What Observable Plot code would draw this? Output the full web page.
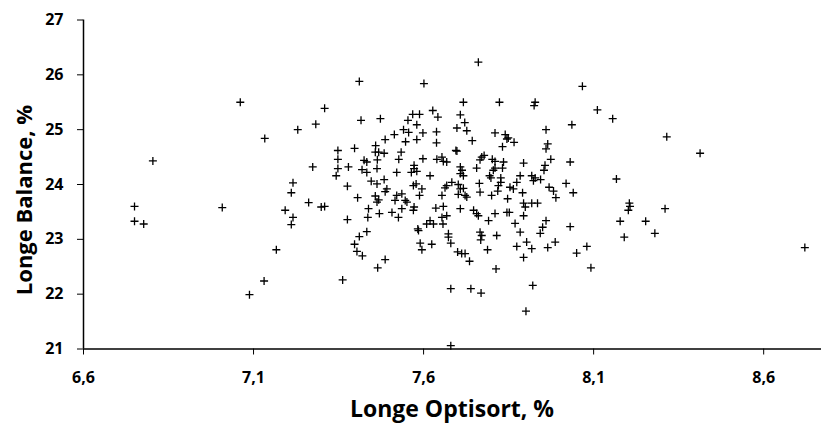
<!DOCTYPE html>
<html><head><meta charset="utf-8">
<script src="https://cdn.jsdelivr.net/npm/d3@7"></script>
<script src="https://cdn.jsdelivr.net/npm/@observablehq/plot@0.6"></script>
<style>
body{margin:0;background:#fff}
#chart svg{display:block}
#chart svg g[aria-label$="tick label"] text{font-weight:bold}
</style>
</head><body><div id="chart"></div>
<script>
const optisort = [6.75,6.75,6.777,6.804,7.008,7.061,7.133,7.088,7.131,7.167,
7.761,7.411,7.601,7.717,7.823,7.928,7.925,7.309,7.230,7.283,
7.416,7.473,7.554,7.568,7.588,7.580,7.627,7.642,7.708,7.721,
7.698,7.727,7.541,7.556,7.598,7.514,7.487,7.547,7.580,7.638,
7.638,7.743,7.810,7.840,7.849,7.845,7.866,7.832,7.348,7.348,
7.348,7.343,7.397,7.379,7.459,7.458,7.468,7.484,7.534,7.425,
7.433,7.464,7.527,7.598,7.639,7.654,7.658,7.695,7.698,7.572,
7.572,7.580,7.419,7.433,7.463,7.521,7.564,7.619,7.668,7.708,
7.713,7.708,7.717,7.756,7.771,7.778,7.766,7.802,7.810,7.810,
7.805,7.835,7.832,7.894,7.794,7.798,7.827,7.884,7.918,7.928,
7.923,7.216,7.211,7.274,7.376,7.406,7.446,7.463,7.484,7.492,
7.487,7.458,7.468,7.463,7.521,7.516,7.536,7.546,7.570,7.578,
7.595,7.588,7.572,7.570,7.551,7.654,7.663,7.668,7.683,7.702,
7.708,7.717,7.702,7.722,7.727,7.764,7.766,7.800,7.820,7.818,
7.827,7.854,7.864,7.874,7.847,7.891,7.894,7.918,7.935,7.899,
7.894,7.262,7.299,7.309,7.193,7.216,7.211,7.376,7.438,7.436,
7.433,7.411,7.470,7.507,7.526,7.536,7.583,7.609,7.619,7.629,
7.636,7.658,7.654,7.657,7.668,7.673,7.708,7.747,7.756,7.761,
7.791,7.810,7.845,7.852,7.869,7.884,7.766,7.771,7.815,7.362,
7.397,7.404,7.420,7.487,7.465,7.585,7.590,7.595,7.624,7.673,
7.680,7.700,7.712,7.722,7.735,7.768,7.788,7.813,7.874,7.903,
7.918,7.894,7.921,7.680,7.739,7.769,7.680,8.067,8.111,8.156,
7.960,8.036,7.965,7.960,8.315,8.413,7.974,8.031,7.957,7.954,
7.944,8.019,7.969,7.982,7.989,8.040,8.167,8.205,8.207,8.202,
8.310,8.178,8.253,7.960,7.950,7.943,8.031,8.190,8.280,7.965,
7.987,8.050,8.080,8.092,7.901,8.721];
const balance = [23.60,23.33,23.28,24.43,23.58,25.50,24.84,21.99,22.24,22.81,
26.23,25.88,25.84,25.50,25.50,25.50,25.44,25.39,25.00,25.10,
25.17,25.20,25.17,25.28,25.28,25.09,25.35,25.23,25.27,25.13,
25.03,24.98,25.00,24.95,24.94,24.91,24.82,24.78,24.82,24.96,
24.76,24.80,24.94,24.91,24.85,24.83,24.77,24.69,24.62,24.46,
24.29,24.16,24.66,24.32,24.71,24.59,24.59,24.57,24.59,24.44,
24.41,24.45,24.46,24.47,24.46,24.50,24.42,24.62,24.61,24.35,
24.29,24.24,24.27,24.22,24.29,24.22,24.22,24.16,24.41,24.32,
24.26,24.20,24.16,24.30,24.50,24.53,24.45,24.46,24.42,24.30,
24.26,24.41,24.30,24.39,24.16,24.12,24.12,24.16,24.16,24.12,
24.07,24.03,23.85,24.32,23.97,23.76,24.06,24.01,24.09,23.92,
23.87,23.79,23.72,23.68,23.80,23.71,23.83,23.71,23.98,24.01,
23.92,23.80,23.59,23.53,23.68,23.80,23.94,23.98,24.04,24.00,
23.92,23.93,23.82,23.80,23.77,24.02,23.86,23.80,23.98,23.88,
24.04,23.95,23.92,24.04,23.74,23.85,23.66,23.66,23.66,23.59,
23.43,23.67,23.59,23.60,23.53,23.40,23.27,23.36,23.56,23.40,
23.14,23.05,23.47,23.49,23.40,23.56,23.19,23.28,23.34,23.28,
23.57,23.60,23.40,23.28,23.43,23.10,23.56,23.53,23.47,23.43,
23.34,23.47,23.49,23.49,23.29,23.13,23.13,23.07,23.07,22.26,
22.91,22.78,22.70,22.63,22.48,23.16,22.93,22.81,22.91,23.04,
22.93,22.77,22.74,22.74,22.60,22.99,22.81,22.46,22.87,22.95,
22.83,22.67,22.16,22.10,22.10,22.02,21.06,25.79,25.36,25.20,
25.00,25.09,24.74,24.65,24.87,24.57,24.46,24.41,24.35,24.26,
24.09,24.02,23.95,23.88,23.76,23.85,24.10,23.66,23.60,23.53,
23.56,23.33,23.33,23.34,23.22,23.11,23.23,23.04,23.11,22.85,
22.95,22.75,22.87,22.48,21.69,22.85];
const xTicks = [6.6, 7.1, 7.6, 8.1, 8.6];
const yTicks = [21, 22, 23, 24, 25, 26, 27];
const xLabel = "Longe Optisort, %";
const yLabel = "Longe Balance, %";

const n = Math.min(optisort.length, balance.length);
const data = d3.range(n).map(i => ({x: optisort[i], y: balance[i]}));
const plusSymbol = {
  draw(ctx, size) {
    const r = Math.sqrt(size / Math.PI);
    ctx.moveTo(-r, 0); ctx.lineTo(r, 0);
    ctx.moveTo(0, -r); ctx.lineTo(0, r);
  }
};
const fmtX = d => d.toFixed(1).replace(".", ",");
const fmtY = d => d3.format("d")(d);
const font = "'Open Sans', 'DejaVu Sans', sans-serif";

const chart = Plot.plot({
  width: 822, height: 425,
  marginLeft: 83, marginRight: 1, marginTop: 19.5, marginBottom: 76.5,
  style: {fontFamily: font, color: "#000", background: "#fff", overflow: "visible"},
  x: {domain: [6.6, 8.77], label: null},
  y: {domain: [21, 27], label: null},
  marks: [
    Plot.axisX({ticks: xTicks, tickFormat: fmtX, tickSize: 6, tickPadding: 17, fontSize: 16, label: null}),
    Plot.axisY({ticks: yTicks, tickFormat: fmtY, tickSize: 6, tickPadding: 14, fontSize: 16, label: null}),
    Plot.ruleY([21], {strokeWidth: 1.5, stroke: "#000"}),
    Plot.ruleX([6.6], {strokeWidth: 1.5, stroke: "#000"}),
    Plot.dot(data, {x: "x", y: "y", symbol: plusSymbol, r: 4, stroke: "#000", strokeWidth: 1.3, fill: "none"})
  ]
});

const svg = d3.select(chart);
svg.append("text").attr("x", 452).attr("y", 417)
  .attr("text-anchor", "middle").attr("font-family", font)
  .attr("font-size", 23).attr("font-weight", "bold").attr("fill", "#000")
  .text(xLabel);
svg.append("text").attr("transform", "translate(32,200) rotate(-90)")
  .attr("text-anchor", "middle").attr("font-family", font)
  .attr("font-size", 22).attr("font-weight", "bold").attr("fill", "#000")
  .text(yLabel);

document.getElementById("chart").appendChild(chart);
</script>
</body></html>
